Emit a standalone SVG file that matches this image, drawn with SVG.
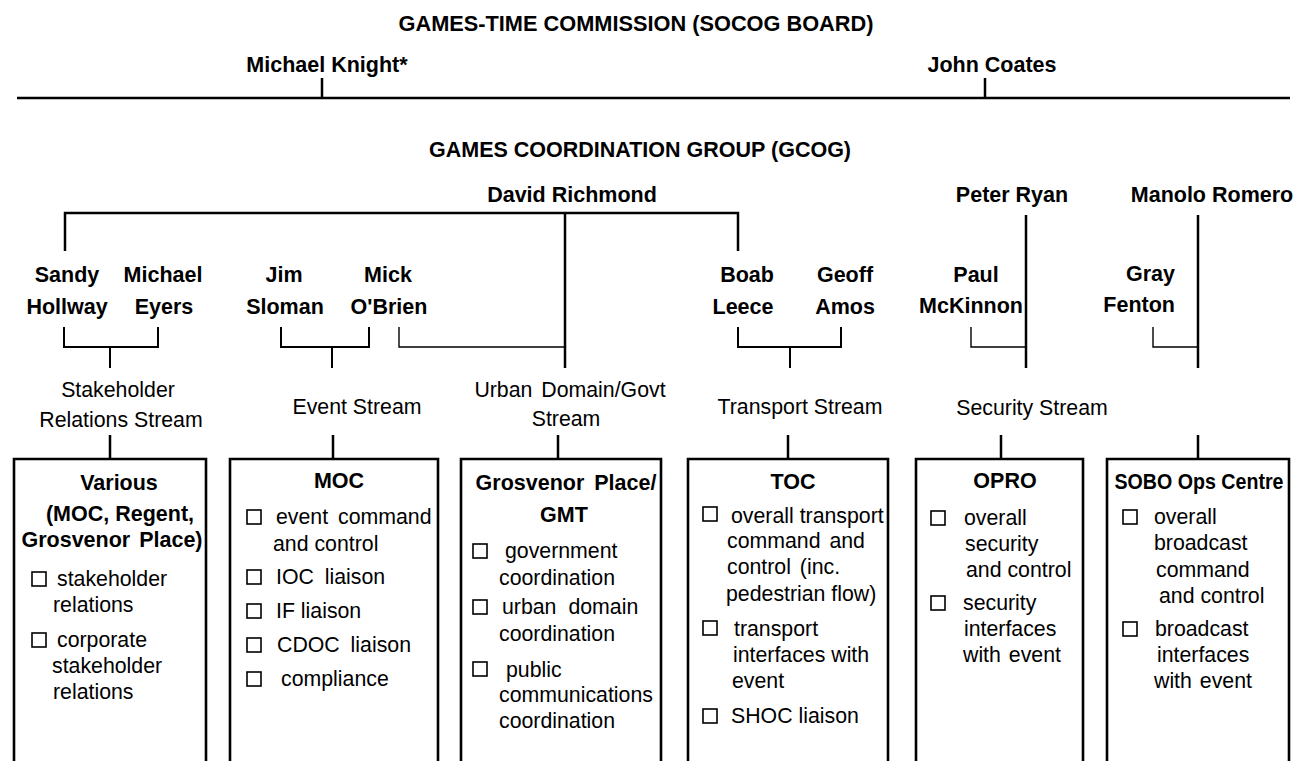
<svg xmlns="http://www.w3.org/2000/svg" width="1312" height="761" viewBox="0 0 1312 761">
<style>
text{font-family:"Liberation Sans",Arial,Helvetica,sans-serif;fill:#000}
.b{font-weight:bold;font-size:21.5px}
.r{font-size:21.3px}
.m{text-anchor:middle}
.ln{stroke:#000;stroke-width:2.5;fill:none}
.th{stroke:#000;stroke-width:2;fill:none}
.tn{stroke:#000;stroke-width:1.4;fill:none}
.box{stroke:#000;stroke-width:2.6;fill:none}
.cb{stroke:#000;stroke-width:1.6;fill:none}
</style>
<rect width="1312" height="761" fill="#fff"/>
<g id="commission">
<text class="b m" x="636" y="31" textLength="475" lengthAdjust="spacingAndGlyphs">GAMES-TIME COMMISSION (SOCOG BOARD)</text>
<text class="b m" x="327" y="72">Michael Knight*</text>
<text class="b m" x="992" y="72">John Coates</text>
</g>
<g id="gcog">
<text class="b m" x="640" y="157">GAMES COORDINATION GROUP (GCOG)</text>
<text class="b m" x="572" y="202">David Richmond</text>
<text class="b m" x="1012" y="202">Peter Ryan</text>
<text class="b m" x="1212" y="202">Manolo Romero</text>
</g>
<g id="people">
<text class="b m" x="67" y="282">Sandy</text>
<text class="b m" x="67" y="314">Hollway</text>
<text class="b m" x="163" y="282">Michael</text>
<text class="b m" x="164" y="314">Eyers</text>
<text class="b m" x="284" y="282">Jim</text>
<text class="b m" x="285" y="314">Sloman</text>
<text class="b m" x="388" y="282">Mick</text>
<text class="b m" x="389" y="314">O'Brien</text>
<text class="b m" x="747" y="282">Boab</text>
<text class="b m" x="743" y="314">Leece</text>
<text class="b m" x="845" y="282">Geoff</text>
<text class="b m" x="845" y="314">Amos</text>
<text class="b m" x="976" y="282">Paul</text>
<text class="b m" x="971" y="313">McKinnon</text>
<text class="b" x="1175" y="281" text-anchor="end">Gray</text>
<text class="b" x="1175" y="312" text-anchor="end">Fenton</text>
</g>
<g id="streams">
<text class="r m" x="118" y="397">Stakeholder</text>
<text class="r m" x="121" y="427">Relations Stream</text>
<text class="r m" x="357" y="414">Event Stream</text>
<text class="r m" x="570" y="397" word-spacing="3">Urban Domain/Govt</text>
<text class="r m" x="566" y="426">Stream</text>
<text class="r m" x="800" y="414">Transport Stream</text>
<text class="r m" x="1032" y="415">Security Stream</text>
</g>
<g id="connectors">
<path class="ln" d="M17 98H1290M322 78V98M985 78V98"/>
<path class="ln" d="M65 251V213H738V251M565 213V368"/>
<path class="ln" d="M1026 215V368M1198 215V368"/>
<path class="th" d="M64 327V347H158V327M110 347V368"/>
<path class="th" d="M281 327V347H369V327M332 347V368"/>
<path class="tn" d="M399 327V347H565"/>
<path class="th" d="M738 327V347H841V327M790 347V368"/>
<path class="tn" d="M971 327V347H1026"/>
<path class="tn" d="M1153 327V347H1198"/>
<path class="ln" d="M110 435V459M333 435V459M558 435V459M788 435V459M1001 435V459M1198 435V459"/>
</g>
<g id="box-various">
<path class="box" d="M14 770V459H206V770"/>
<text class="b m" x="119" y="490">Various</text>
<text class="b m" x="120" y="521">(MOC, Regent,</text>
<text class="b m" x="112" y="547" word-spacing="3">Grosvenor Place)</text>
<rect class="cb" x="32" y="572" width="14" height="14"/>
<text class="r" x="57" y="586">stakeholder</text>
<text class="r" x="53" y="612">relations</text>
<rect class="cb" x="32" y="633" width="14" height="14"/>
<text class="r" x="57" y="647">corporate</text>
<text class="r" x="52" y="673">stakeholder</text>
<text class="r" x="53" y="699">relations</text>
</g>
<g id="box-moc">
<path class="box" d="M230 770V459H438V770"/>
<text class="b m" x="339" y="488">MOC</text>
<rect class="cb" x="247" y="510" width="14" height="14"/>
<text class="r" x="276" y="524" word-spacing="4">event command</text>
<text class="r" x="273" y="551">and control</text>
<rect class="cb" x="247" y="570" width="14" height="14"/>
<text class="r" x="276" y="584" word-spacing="5">IOC liaison</text>
<rect class="cb" x="247" y="604" width="14" height="14"/>
<text class="r" x="276" y="618">IF liaison</text>
<rect class="cb" x="247" y="638" width="14" height="14"/>
<text class="r" x="277" y="652" word-spacing="5">CDOC liaison</text>
<rect class="cb" x="247" y="672" width="14" height="14"/>
<text class="r" x="281" y="686">compliance</text>
</g>
<g id="box-grosvenor">
<path class="box" d="M461 770V459H661V770"/>
<text class="b m" x="566" y="490" word-spacing="4">Grosvenor Place/</text>
<text class="b m" x="564" y="522">GMT</text>
<rect class="cb" x="473" y="544" width="14" height="14"/>
<text class="r" x="505" y="558">government</text>
<text class="r" x="499" y="585">coordination</text>
<rect class="cb" x="473" y="600" width="14" height="14"/>
<text class="r" x="502" y="614" word-spacing="6">urban domain</text>
<text class="r" x="499" y="641">coordination</text>
<rect class="cb" x="473" y="662" width="14" height="14"/>
<text class="r" x="506" y="677">public</text>
<text class="r" x="499" y="702">communications</text>
<text class="r" x="499" y="728">coordination</text>
</g>
<g id="box-toc">
<path class="box" d="M688 770V459H888V770"/>
<text class="b m" x="793" y="489">TOC</text>
<rect class="cb" x="703" y="507" width="14" height="14"/>
<text class="r" x="731" y="523">overall transport</text>
<text class="r" x="727" y="548" word-spacing="3">command and</text>
<text class="r" x="727" y="574" word-spacing="3">control (inc.</text>
<text class="r" x="726" y="601">pedestrian flow)</text>
<rect class="cb" x="703" y="621" width="14" height="14"/>
<text class="r" x="734" y="636">transport</text>
<text class="r" x="733" y="662">interfaces with</text>
<text class="r" x="732" y="688">event</text>
<rect class="cb" x="703" y="709" width="14" height="14"/>
<text class="r" x="731" y="723">SHOC liaison</text>
</g>
<g id="box-opro">
<path class="box" d="M916 770V459H1083V770"/>
<text class="b m" x="1005" y="488">OPRO</text>
<rect class="cb" x="931" y="511" width="14" height="14"/>
<text class="r" x="964" y="525">overall</text>
<text class="r" x="965" y="551">security</text>
<text class="r" x="966" y="577">and control</text>
<rect class="cb" x="931" y="596" width="14" height="14"/>
<text class="r" x="963" y="610">security</text>
<text class="r" x="964" y="636">interfaces</text>
<text class="r" x="963" y="662" word-spacing="2">with event</text>
</g>
<g id="box-sobo">
<path class="box" d="M1107 770V459H1289V770"/>
<text class="b m" x="1199" y="489" textLength="169" lengthAdjust="spacingAndGlyphs">SOBO Ops Centre</text>
<rect class="cb" x="1123" y="510" width="14" height="14"/>
<text class="r" x="1154" y="524">overall</text>
<text class="r" x="1154" y="550">broadcast</text>
<text class="r" x="1156" y="577">command</text>
<text class="r" x="1159" y="603">and control</text>
<rect class="cb" x="1123" y="622" width="14" height="14"/>
<text class="r" x="1155" y="636">broadcast</text>
<text class="r" x="1157" y="662">interfaces</text>
<text class="r" x="1154" y="688" word-spacing="2">with event</text>
</g>
</svg>
